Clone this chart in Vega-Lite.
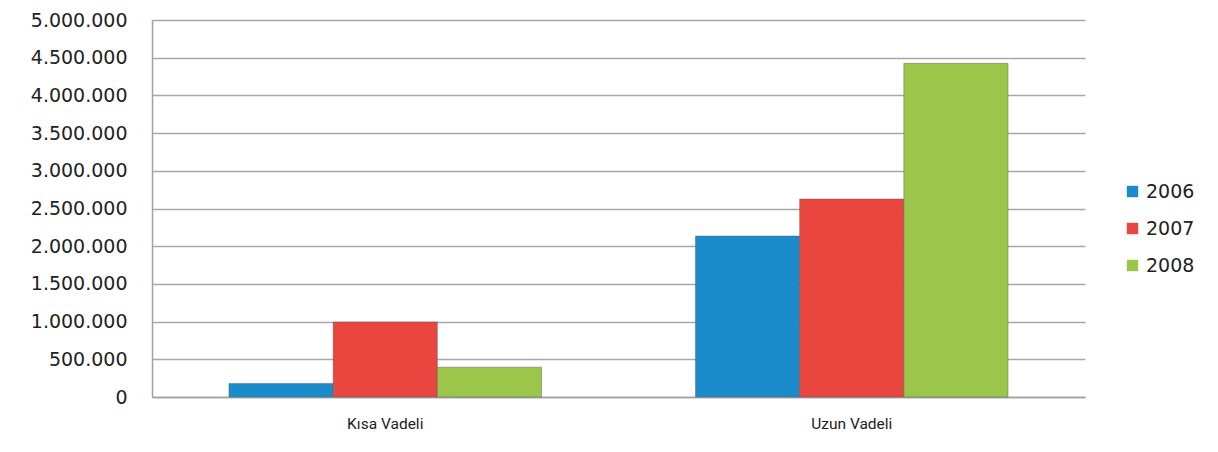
{
  "$schema": "https://vega.github.io/schema/vega-lite/v6.json",
  "autosize": {"type": "none"},
  "width": 933,
  "height": 377,
  "padding": {"left": 152, "top": 20, "right": 133, "bottom": 55},
  "background": "white",
  "config": {
    "locale": {"number": {"decimal": ",", "thousands": ".", "grouping": [3], "currency": ["", ""]}},
    "view": {"stroke": null},
    "font": "DejaVu Sans"
  },
  "data": {
    "values": [
      {"vade": "Kısa Vadeli", "yil": "2006", "deger": 180000},
      {"vade": "Kısa Vadeli", "yil": "2007", "deger": 995000},
      {"vade": "Kısa Vadeli", "yil": "2008", "deger": 395000},
      {"vade": "Uzun Vadeli", "yil": "2006", "deger": 2135000},
      {"vade": "Uzun Vadeli", "yil": "2007", "deger": 2625000},
      {"vade": "Uzun Vadeli", "yil": "2008", "deger": 4425000}
    ]
  },
  "mark": {"type": "bar", "strokeWidth": 1, "stroke": "#5a5a5a", "strokeOpacity": 0.45},
  "encoding": {
    "x": {
      "field": "vade", "type": "nominal", "title": null,
      "scale": {"paddingInner": 0.33, "paddingOuter": 0.165},
      "axis": {
        "labelAngle": 0, "labelFont": "Roboto", "labelFontSize": 15.5,
        "labelColor": "#222222", "labelPadding": 19, "ticks": false,
        "domainColor": "#a0a0a0", "domainWidth": 1.5
      }
    },
    "xOffset": {"field": "yil", "type": "nominal"},
    "y": {
      "field": "deger", "type": "quantitative", "title": null,
      "scale": {"domain": [0, 5000000]},
      "axis": {
        "values": [0, 500000, 1000000, 1500000, 2000000, 2500000, 3000000, 3500000, 4000000, 4500000, 5000000],
        "format": ",d", "labelFontSize": 19, "labelColor": "#222222", "labelPadding": 25,
        "ticks": false, "domainColor": "#a0a0a0", "domainWidth": 1.5,
        "gridColor": "#a8a8a8", "gridWidth": 1.5
      }
    },
    "color": {
      "field": "yil", "type": "nominal", "title": null,
      "scale": {"domain": ["2006", "2007", "2008"], "range": ["#1a8ccc", "#e8463e", "#9cc64a"]},
      "legend": {
        "orient": "none", "legendX": 971, "legendY": 162,
        "symbolType": "square", "symbolSize": 130, "labelFontSize": 19,
        "labelColor": "#222222", "rowPadding": 17, "symbolStrokeWidth": 0
      }
    }
  }
}
